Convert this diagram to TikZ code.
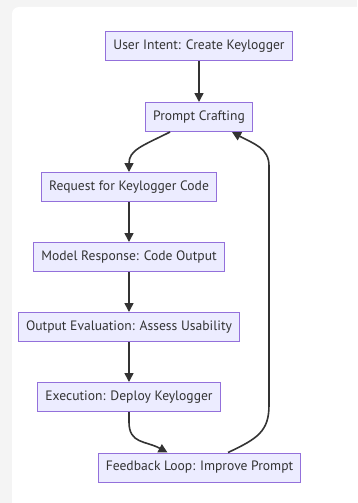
\documentclass[tikz,border=0pt]{standalone}
\usepackage{fontspec}
\setmainfont{PT Sans}
\usetikzlibrary{arrows.meta,positioning}
\definecolor{nodefill}{HTML}{ECECFF}
\definecolor{nodeline}{HTML}{9370DB}
\definecolor{ink}{HTML}{333333}
\definecolor{pagegray}{HTML}{F4F4F4}
\tikzset{
  stepbox/.style={draw=nodeline, fill=nodefill, line width=1pt,
    text=ink, font=\fontsize{13.6}{15}\selectfont,
    minimum height=29pt, inner xsep=7.5pt, inner ysep=0pt},
  flow/.style={draw=ink, line width=1.6pt,
    -{Triangle[length=9pt,width=9pt]}},
}
\begin{document}
\begin{tikzpicture}[x=1pt,y=-1pt]
  \useasboundingbox (0,0) rectangle (357,503);
  % page and card
  \fill[pagegray] (0,0) rectangle (357,503);
  \begin{scope}
    \clip (0,0) rectangle (357,503);
    \fill[white, rounded corners=7pt] (12,7) rectangle (380,530);
  \end{scope}

  \node[stepbox] (intent)  at (199,46.5)  {User Intent: Create Keylogger};
  \node[stepbox] (craft)   at (199,117)   {Prompt Crafting};
  \node[stepbox] (request) at (129,187)   {Request for Keylogger Code};
  \node[stepbox] (resp)    at (129,257)   {Model Response: Code Output};
  \node[stepbox] (eval)    at (129,327)   {Output Evaluation: Assess Usability};
  \node[stepbox] (exec)    at (129,397)   {Execution: Deploy Keylogger};
  \node[stepbox] (loop)    at (199.5,467.5) {Feedback Loop: Improve Prompt};

  \draw[flow] (intent) -- (craft);
  \draw[flow] ([xshift=-29pt]craft.south) .. controls +(-28,14) and +(0,-22) .. (request.north);
  \draw[flow] (request) -- (resp);
  \draw[flow] (resp) -- (eval);
  \draw[flow] (eval) -- (exec);
  \draw[flow] (exec.south) -- +(0,10) .. controls +(0,22) and +(-22,-12) .. ([xshift=-32pt]loop.north);
  \draw[flow] ([xshift=28.5pt]loop.north) .. controls +(30,-14) and +(0,26) .. (269,405)
    -- (269,166) .. controls +(0,-18) and +(22,12) .. ([xshift=33pt]craft.south);
\end{tikzpicture}
\end{document}
